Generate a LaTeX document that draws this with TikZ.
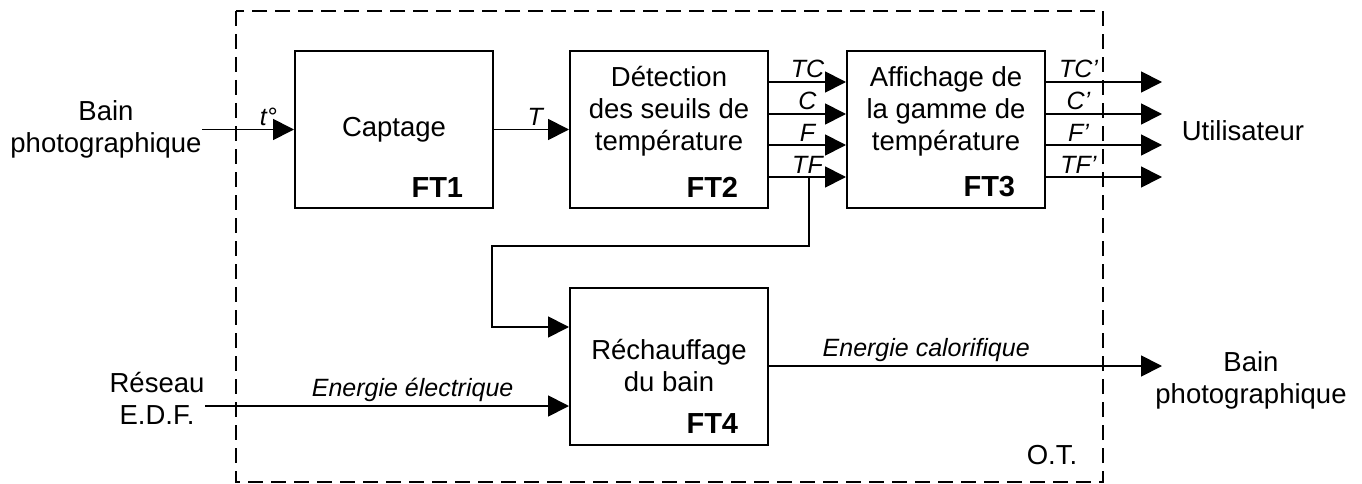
\documentclass[tikz,border=0pt]{standalone}
\usepackage{fontspec}
\setmainfont{Liberation Sans}
\usetikzlibrary{arrows.meta,positioning}

\begin{document}
\begin{tikzpicture}[x=1pt,y=-1pt,line width=1.8pt,
    fbox/.style={draw,line width=2pt,minimum width=198pt,minimum height=157pt,inner sep=0pt},
    fl/.style={-{Triangle[length=21pt,width=21pt]}},
    lbl/.style={font=\fontsize{27.5}{32}\selectfont,align=center,inner sep=0pt},
    sig/.style={font=\fontsize{25}{28}\selectfont\itshape,inner sep=3pt},
    ftn/.style={font=\fontsize{29}{30}\selectfont\bfseries,anchor=south east,inner sep=0pt}]
    \useasboundingbox (0,0) rectangle (1362,484);
    % O.T. frontier
    \draw[dash pattern=on 15pt off 8pt] (236,11) rectangle (1103,482);
    \node[lbl] (ot) at (1052,455) {O.T.};

    % function blocks
    \node[fbox] (ft1) at (394,129.5) {};
    \node[fbox] (ft2) at (669,129.5) {};
    \node[fbox] (ft3) at (946,129.5) {};
    \node[fbox] (ft4) at (669,366) {};
    \node[lbl] (ft1t) at (ft1.center) {Captage};
    \node[lbl] (ft2t) at ([yshift=18.5pt]ft2.center) {Détection\\des seuils de\\température};
    \node[lbl] (ft3t) at ([yshift=18.5pt]ft3.center) {Affichage de\\la gamme de\\température};
    \node[lbl] (ft4t) at (ft4.center) {Réchauffage\\du bain};
    \foreach \b/\n in {ft1/FT1,ft2/FT2,ft3/FT3,ft4/FT4}
      \node[ftn] (\b n) at ([xshift=-30pt,yshift=11pt]\b.south east) {\n};

    % outside world
    \node[lbl] (bainin) at (106,129) {Bain\\photographique};
    \node[lbl] (reseau) at (157,398) {Réseau\\E.D.F.};
    \node[lbl] (util) at (1243,131) {Utilisateur};
    \node[lbl] (bainout) at (1251,380) {Bain\\photographique};
    \coordinate (xout) at (1162,0);

    % flows
    \draw[fl] (bainin.east |- ft1) -- (ft1) node[sig,above,pos=0.72] {t°};
    \draw[fl] (ft1) -- (ft2) node[sig,above,pos=0.55] {T};
    \foreach \dy/\sg in {47.5/TC,15.5/C,-15.5/F,-47.5/TF}
      \draw[fl] ([yshift=\dy pt]ft2.east) -- ([yshift=\dy pt]ft3.west)
        node[sig,above,midway] {\sg};
    \foreach \dy/\sg in {47.5/TC',15.5/C',-15.5/F',-47.5/TF'}
      \draw[fl] ([yshift=\dy pt]ft3.east) -- ([yshift=\dy pt]ft3.east -| xout)
        node[sig,above,pos=0.28] {\sg};
    \coordinate (tftap) at ([xshift=40pt,yshift=-47.5pt]ft2.east);
    \coordinate (loop) at (492,246);
    \draw[fl] (tftap) |- (loop) |- ([yshift=39pt]ft4.west);
    \draw[fl] ([yshift=-40pt]ft4.west -| reseau.east) -- ([yshift=-40pt]ft4.west)
      node[sig,above,pos=0.57] {Energie électrique};
    \draw[fl] (ft4) -- (ft4 -| xout) node[sig,above,pos=0.4] {Energie calorifique};
  \end{tikzpicture}
\end{document}
